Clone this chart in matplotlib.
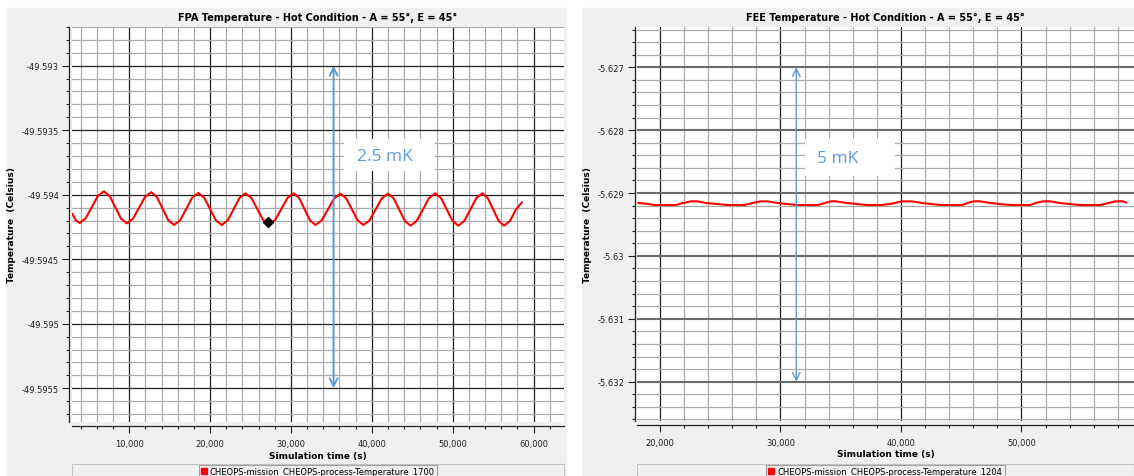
import matplotlib
matplotlib.use('Agg')
import matplotlib.pyplot as plt
from matplotlib.patches import Rectangle
from matplotlib.lines import Line2D
from matplotlib.ticker import MultipleLocator

plt.rcParams['font.family'] = 'DejaVu Sans'

# --- FPA (left panel) ---
fpa_time = [2950, 3400, 3852, 4605, 5358, 6111, 6864, 7571, 8278, 8984,
            9691, 10444, 11198, 11951, 12704, 13411, 14118, 14824,
            15531, 16281, 17031, 17781, 18531, 19259, 19988, 20716,
            21444, 22176, 22907, 23639, 24370, 25099, 25827, 26556,
            27284, 28046, 28809, 29571, 30333, 31006, 31679, 32352,
            33025, 33800, 34574, 35349, 36123, 36830, 37537, 38244,
            38951, 39713, 40476, 41238, 42000, 42698, 43395, 44093,
            44790, 45553, 46315, 47078, 47840, 48556, 49272, 49988,
            50704, 51445, 52186, 52926, 53667, 54340, 55013, 55685,
            56358, 57090, 57820, 58556]
fpa_temp = [-49.594150, -49.594200, -49.594219, -49.594183, -49.594097, -49.594010,
            -49.593974, -49.594010, -49.594098, -49.594186,
            -49.594222, -49.594187, -49.594102, -49.594017, -49.593981,
            -49.594018, -49.594108, -49.594198,
            -49.594235, -49.594199, -49.594111, -49.594023, -49.593987,
            -49.594023, -49.594111, -49.594199,
            -49.594235, -49.594199, -49.594112, -49.594025, -49.593989,
            -49.594025, -49.594110, -49.594196,
            -49.594231, -49.594196, -49.594110, -49.594025, -49.593989,
            -49.594025, -49.594112, -49.594199,
            -49.594235, -49.594199, -49.594114, -49.594028, -49.593992,
            -49.594028, -49.594114, -49.594199,
            -49.594235, -49.594199, -49.594114, -49.594028, -49.593992,
            -49.594028, -49.594116, -49.594204,
            -49.594240, -49.594203, -49.594115, -49.594026, -49.593989,
            -49.594026, -49.594115, -49.594203,
            -49.594240, -49.594203, -49.594115, -49.594026, -49.593989,
            -49.594026, -49.594115, -49.594203,
            -49.594240, -49.594203, -49.594115, -49.594060]
fpa_mark_time = 27200
fpa_mark_temp = -49.594210

# --- FEE (right panel) ---
fee_time = [18220, 18858, 19545, 21341, 21755, 22583, 23137, 23824, 24793,
            25621, 26995, 27823, 28377, 28932, 29760, 30861, 31415, 33071,
            33617, 34172, 34586, 35554, 36655, 37210, 38429, 39257, 40085,
            40913, 41740, 42816, 43396, 45073, 45620, 46009, 46588, 47416,
            48492, 49320, 50727, 51282, 51803, 52383, 53211, 54287, 54866,
            56522, 57350, 57764, 58427, 58675]
fee_temp = [-5.629159, -5.629169, -5.629191, -5.629191, -5.629164, -5.629132,
            -5.629132, -5.629159, -5.629175, -5.629191, -5.629191, -5.629153,
            -5.629132, -5.629132, -5.629159, -5.629180, -5.629191, -5.629191,
            -5.629164, -5.629132, -5.629132, -5.629159, -5.629180, -5.629191,
            -5.629191, -5.629169, -5.629132, -5.629132, -5.629159, -5.629180,
            -5.629191, -5.629191, -5.629153, -5.629132, -5.629132, -5.629159,
            -5.629180, -5.629191, -5.629191, -5.629153, -5.629132, -5.629132,
            -5.629159, -5.629180, -5.629191, -5.629191, -5.629153, -5.629132,
            -5.629132, -5.629153]

fpa_yticks = [-49.593, -49.5935, -49.594, -49.5945, -49.595, -49.5955]
fpa_ylabels = ['-49.593', '-49.5935', '-49.594', '-49.5945', '-49.595', '-49.5955']
fee_yticks = [-5.627, -5.628, -5.629, -5.630, -5.631, -5.632]
fee_ylabels = ['-5.627', '-5.628', '-5.629', '-5.63', '-5.631', '-5.632']
fpa_xticks = [10000, 20000, 30000, 40000, 50000, 60000]
fpa_xlabels = ['10,000', '20,000', '30,000', '40,000', '50,000', '60,000']
fee_xticks = [20000, 30000, 40000, 50000]
fee_xlabels = ['20,000', '30,000', '40,000', '50,000']

fpa_title = 'FPA Temperature - Hot Condition - A = 55°, E = 45°'
fee_title = 'FEE Temperature - Hot Condition - A = 55°, E = 45°'
fpa_legend = 'CHEOPS-mission_CHEOPS-process-Temperature_1700'
fee_legend = 'CHEOPS-mission_CHEOPS-process-Temperature_1204'
fpa_span = (-49.593, -49.5955, '2.5 mK', 35270)
fee_span = (-5.627, -5.632, '5 mK', 31316)

W, H = 1134, 477
BLUE = '#5b9bd5'
PANEL = '#f0f0f0'

fig = plt.figure(figsize=(W / 100, H / 100), dpi=100)
fig.patch.set_facecolor('white')
# grey panel backgrounds
fig.add_artist(Rectangle((7 / W, 0), (566 - 7) / W, (H - 9) / H,
                         transform=fig.transFigure, color=PANEL, zorder=0))
fig.add_artist(Rectangle((582 / W, 0), (W - 582) / W, (H - 9) / H,
                         transform=fig.transFigure, color=PANEL, zorder=0))

axL = fig.add_axes([71.5 / W, 1 - 423.3 / H, 492.5 / W, 395.6 / H])
axR = fig.add_axes([637 / W, 1 - 422 / H, 497 / W, 394.3 / H])


def style(ax, xlim, ylim, xt, xl, yt, yl, ymin_step, hmaj_color, hmaj_lw):
    ax.set_facecolor('white')
    ax.set_xlim(*xlim)
    ax.set_ylim(*ylim)
    ax.set_xticks(xt)
    ax.set_xticklabels(xl)
    ax.set_yticks(yt)
    ax.set_yticklabels(yl)
    ax.xaxis.set_minor_locator(MultipleLocator(2000))
    ax.yaxis.set_minor_locator(MultipleLocator(ymin_step))
    ax.set_axisbelow(True)
    ax.xaxis.grid(True, which='major', color='#1e1e1e', lw=0.9)
    ax.yaxis.grid(True, which='major', color=hmaj_color, lw=hmaj_lw)
    ax.grid(True, which='minor', color='#ababab', lw=0.9)
    ax.spines['top'].set_visible(False)
    ax.spines['right'].set_visible(False)
    ax.spines['left'].set_position(('outward', 1.5))
    ax.spines['bottom'].set_position(('outward', 3))
    for s in ['left', 'bottom']:
        ax.spines[s].set_color('#222222')
        ax.spines[s].set_linewidth(0.9)
    ax.tick_params(which='major', length=5, width=0.8, labelsize=6, pad=2.5,
                   colors='#222222')
    ax.tick_params(which='minor', length=2.5, width=0.8, colors='#222222')
    ax.tick_params(axis='x', pad=4)
    ax.set_xlabel('Simulation time (s)', fontsize=6.5, fontweight='bold',
                  labelpad=2)
    ax.set_ylabel('Temperature  (Celsius)', fontsize=6.5, fontweight='bold',
                  labelpad=4)


style(axL, (2850, 63770), (-49.595764, -49.592698), fpa_xticks, fpa_xlabels,
      fpa_yticks, fpa_ylabels, 0.0001, '#1e1e1e', 0.9)
style(axR, (18100, 59340), (-5.632625, -5.626355), fee_xticks, fee_xlabels,
      fee_yticks, fee_ylabels, 0.0002, '#6a6a6a', 1.5)

axL.plot(fpa_time, fpa_temp, color='red', lw=1.5, zorder=3)
axL.plot([fpa_mark_time], [fpa_mark_temp], marker='D', color='black',
         markersize=5, ls='none', zorder=4)
axR.plot(fee_time, fee_temp, color='red', lw=1.5, zorder=3)

axL.set_title(fpa_title, fontsize=7, fontweight='bold', pad=5)
axR.set_title(fee_title, fontsize=7, fontweight='bold', pad=5)

# span arrows with the labels in white boxes
for ax, span, lw, box, tpos in [
        (axL, fpa_span, 1.4, (0.5527, 0.636, 0.1844, 0.080), (0.636, 0.672)),
        (axR, fee_span, 1.0, (0.3390, 0.622, 0.1810, 0.093), (0.404, 0.667))]:
    top, bot, txt, xs = span
    ax.annotate('', xy=(xs, top), xytext=(xs, bot),
                arrowprops=dict(arrowstyle='<->', color=BLUE, lw=lw,
                                mutation_scale=14, shrinkA=0, shrinkB=0),
                zorder=5)
    ax.add_patch(Rectangle((box[0], box[1]), box[2], box[3],
                           transform=ax.transAxes, facecolor='white',
                           edgecolor='none', zorder=5))
    ax.text(tpos[0], tpos[1], txt, transform=ax.transAxes, ha='center',
            va='center', color=BLUE, fontsize=12.5, family='Open Sans',
            zorder=6)

# legend strips below the axes
for ax, label, y0 in [(axL, fpa_legend, -0.105), (axR, fee_legend, -0.109)]:
    ax.add_patch(Rectangle((0, y0 - 0.2), 1.0, 0.2, transform=ax.transAxes,
                           facecolor=PANEL, edgecolor='#c4c4c4', lw=0.8,
                           clip_on=False, zorder=1))
    handle = Line2D([], [], marker='s', color='red', ls='none', markersize=4)
    leg = ax.legend([handle], [label], loc='upper center',
                    bbox_to_anchor=(0.5, y0 - 0.002), fontsize=6,
                    frameon=True, fancybox=False, edgecolor='#a0a0a0',
                    facecolor=PANEL, framealpha=1, handlelength=0.6,
                    handletextpad=0.4, borderpad=0.3, borderaxespad=0)
    leg.get_frame().set_linewidth(0.8)

fig.savefig('out.png', dpi=100)
